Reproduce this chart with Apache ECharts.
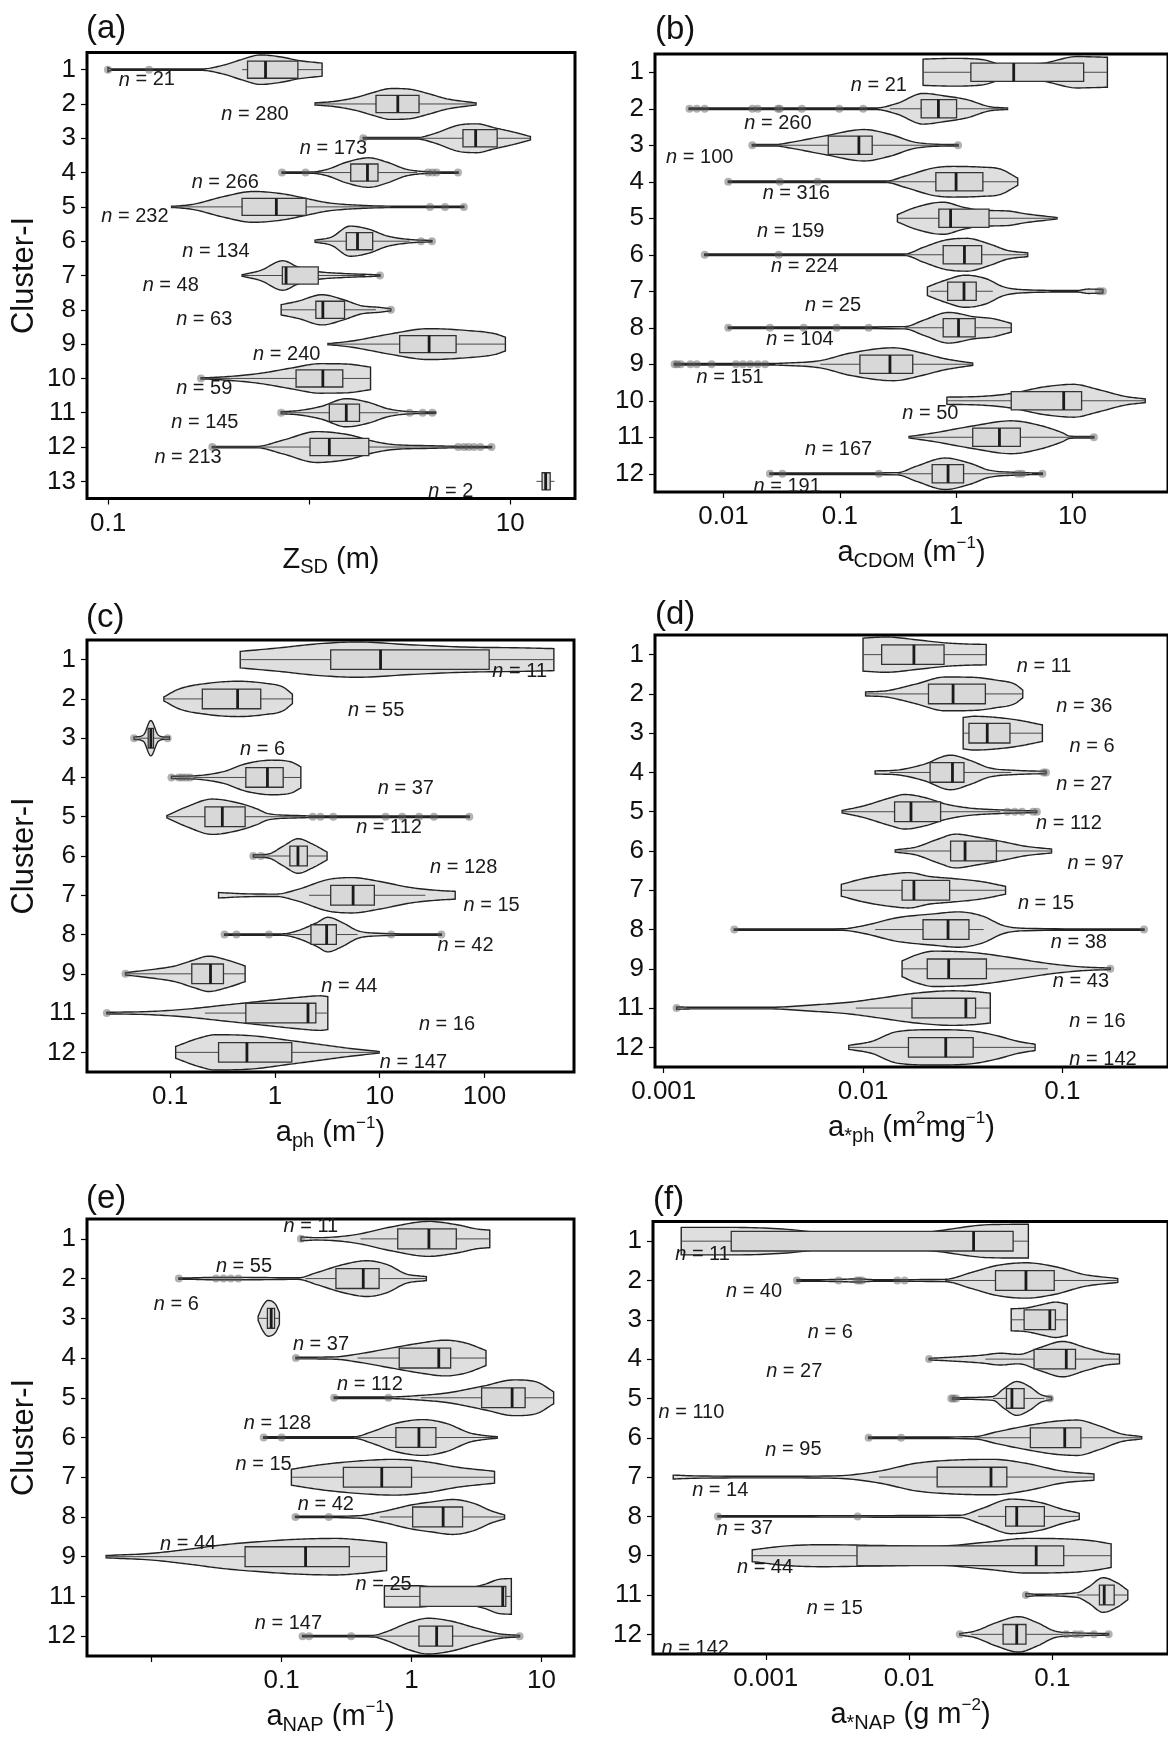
<!DOCTYPE html>
<html>
<head>
<meta charset="utf-8">
<title>Cluster-I violin plots</title>
<script src="https://cdn.jsdelivr.net/npm/echarts@6/dist/echarts.min.js"></script>
<style>
  html, body { margin: 0; padding: 0; background: #fff; }
  #chart { width: 1168px; height: 1738px; }
</style>
</head>
<body>
<div id="chart"></div>
<script>
// --- data: (a) Z_SD ---
const zsdClusters = ['1', '2', '3', '4', '5', '6', '7', '8', '9', '10', '11', '12', '13'];
// violin outline: [value, half width in category units]
const zsdViolins = [
  [[0.1, .06], [0.104, .02], [0.29, .02], [0.375, .13], [0.464, .3], [0.574, .43], [0.741, .36], [0.879, .27], [1.16, .19]],
  [[1.07, .03], [1.35, .08], [1.74, .2], [2.07, .33], [2.55, .45], [3.16, .43], [3.92, .3], [4.84, .15], [6.76, .03]],
  [[1.86, .01], [3.44, .02], [4.26, .15], [5.51, .38], [6.81, .42], [8.43, .3], [10.4, .18], [12.6, .05]],
  [[0.733, .01], [1.04, .02], [1.24, .1], [1.53, .3], [1.98, .43], [2.45, .3], [3.03, .1], [3.75, .03], [5.51, .01]],
  [[0.207, .01], [0.267, .08], [0.375, .3], [0.527, .45], [0.741, .38], [0.958, .25], [1.24, .12], [1.74, .05], [2.55, .02], [5.88, .01]],
  [[1.07, .03], [1.29, .12], [1.6, .44], [1.98, .35], [2.45, .15], [3.16, .05], [4.08, .02]],
  [[0.464, .02], [0.574, .15], [0.741, .43], [0.879, .25], [1.09, .12], [1.47, .06], [2.25, .02]],
  [[0.726, .15], [0.879, .25], [1.16, .44], [1.47, .3], [1.82, .12], [2.25, .07], [2.55, .03]],
  [[1.24, .01], [1.67, .1], [2.55, .3], [3.92, .45], [6.0, .4], [8.43, .3], [9.46, .2]],
  [[0.29, .01], [0.408, .06], [0.574, .15], [0.81, .3], [1.14, .43], [1.53, .42], [2.02, .33]],
  [[0.726, .03], [0.879, .06], [1.14, .18], [1.53, .41], [1.98, .3], [2.45, .12], [3.03, .04], [4.26, .02]],
  [[0.33, .01], [0.55, .02], [0.741, .2], [1.09, .45], [1.6, .35], [1.98, .2], [2.55, .08], [3.92, .04], [5.51, .02], [8.07, .01]],
  []
];
// [q1, median, q3]
const zsdBoxes = [[0.494, 0.607, 0.879], [2.15, 2.76, 3.52], [5.82, 6.73, 8.61], [1.61, 1.95, 2.2], [0.464, 0.687, 0.966],
  [1.53, 1.74, 2.07], [0.736, 0.768, 1.11], [1.08, 1.17, 1.5], [2.82, 3.95, 5.38], [0.861, 1.17, 1.47], [1.26, 1.53, 1.78],
  [1.01, 1.26, 1.98], [14.4, 15.0, 15.8]];
const zsdWhiskers = [[0.464, 1.16], [1.07, 6.76], [1.86, 12.6], [1.0, 3.44], [0.207, 2.55], [1.07, 3.16], [0.464, 1.9],
  [0.726, 2.15], [1.24, 9.46], [0.29, 2.02], [0.726, 2.78], [0.33, 5.38], [13.5, 16.6]];
// [value, cluster index]
const zsdOutliers = [[0.1, 0], [0.16, 0], [1.86, 2], [0.733, 3], [0.96, 3], [3.9, 3], [4.1, 3], [4.3, 3], [5.5, 3],
  [3.99, 4], [4.74, 4], [5.88, 4], [3.6, 5], [4.08, 5], [2.25, 6], [2.55, 7], [0.29, 9], [0.726, 10], [3.16, 10],
  [3.67, 10], [4.1, 10], [0.33, 11], [5.51, 11], [5.88, 11], [6.2, 11], [6.6, 11], [7.1, 11], [8.07, 11]];
// [x value, cluster index, vertical offset in category units, n]
const zsdCounts = [[0.156, 0, .30, 21], [0.538, 1, .30, 280], [1.32, 2, .29, 173], [0.383, 3, .30, 266], [0.136, 4, .29, 232],
  [0.344, 5, .30, 134], [0.205, 6, .29, 48], [0.301, 7, .29, 63], [0.774, 8, .29, 240], [0.301, 9, .28, 59],
  [0.303, 10, .29, 145], [0.25, 11, .29, 213], [5.06, 12, .30, 2]];

// --- data: (b) a_CDOM ---
const cdomClusters = ['1', '2', '3', '4', '5', '6', '7', '8', '9', '10', '11', '12'];
const cdomViolins = [
  [[0.52, .36], [0.93, .38], [1.66, .35], [2.98, .15], [5.73, .25], [11.0, .43], [20.0, .41]],
  [[0.00506, .01], [0.202, .02], [0.313, .15], [0.52, .42], [0.804, .35], [1.24, .25], [1.92, .06], [2.77, .02]],
  [[0.0177, .01], [0.0284, .02], [0.0379, .08], [0.073, .25], [0.162, .43], [0.27, .3], [0.45, .08], [1.04, .01]],
  [[0.011, .01], [0.251, .02], [0.361, .15], [0.647, .38], [0.93, .42], [1.66, .4], [2.39, .35], [3.39, .1]],
  [[0.313, .1], [0.45, .3], [0.775, .44], [1.16, .3], [1.66, .22], [2.77, .2], [3.98, .12], [7.38, .02]],
  [[0.0069, .01], [0.361, .02], [0.52, .2], [0.804, .4], [1.24, .45], [1.92, .3], [2.77, .12], [4.13, .05]],
  [[0.567, .12], [0.804, .3], [1.2, .44], [1.79, .35], [2.57, .12], [3.98, .04], [11.0, .02], [13.7, .06], [18.3, .05]],
  [[0.011, .01], [0.361, .03], [0.52, .2], [0.865, .42], [1.44, .3], [2.07, .25], [2.98, .12]],
  [[0.00379, .01], [0.0245, .02], [0.0328, .03], [0.0679, .1], [0.121, .3], [0.29, .45], [0.52, .3], [0.804, .15], [1.39, .03]],
  [[0.834, .1], [1.66, .12], [2.98, .2], [5.73, .38], [10.2, .45], [17.0, .3], [28.3, .12], [42.3, .05]],
  [[0.394, .02], [0.647, .12], [1.34, .3], [2.98, .45], [5.33, .32], [8.24, .12], [9.52, .03], [15.3, .01]],
  [[0.0251, .01], [0.313, .03], [0.45, .2], [0.804, .43], [1.34, .28], [1.92, .1], [3.98, .03], [5.52, .01]]
];
const cdomBoxes = [[1.34, 3.13, 12.5], [0.501, 0.705, 1.01], [0.0796, 0.146, 0.19], [0.67, 1.0, 1.7], [0.711, 0.897, 1.92],
  [0.775, 1.18, 1.66], [0.846, 1.17, 1.49], [0.775, 1.05, 1.46], [0.149, 0.27, 0.424], [2.98, 8.42, 12.0],
  [1.39, 2.36, 3.57], [0.623, 0.853, 1.16]];
const cdomWhiskers = [[0.52, 20.0], [0.27, 2.77], [0.0177, 1.04], [0.251, 3.39], [0.313, 7.38], [0.361, 4.13], [0.601, 2.07],
  [0.361, 2.98], [0.0679, 1.39], [0.834, 42.3], [0.394, 15.3], [0.313, 3.98]];
const cdomOutliers = [[0.0051, 1], [0.0059, 1], [0.0069, 1], [0.0177, 1], [0.0197, 1], [0.0294, 1], [0.0305, 1], [0.0472, 1],
  [0.099, 1], [0.159, 1], [0.0177, 2], [1.04, 2], [0.011, 3], [0.0305, 3], [0.0645, 3], [0.0069, 5], [0.0298, 5],
  [17, 6], [18.3, 6], [0.011, 7], [0.0251, 7], [0.049, 7], [0.0941, 7], [0.177, 7],
  [0.0038, 8], [0.0040, 8], [0.0043, 8], [0.0052, 8], [0.0059, 8], [0.0079, 8], [0.0128, 8], [0.0147, 8], [0.017, 8],
  [0.0197, 8], [0.0228, 8], [15.3, 10], [0.0251, 11], [0.0321, 11], [0.217, 11], [3.39, 11], [3.7, 11], [5.52, 11]];
const cdomCounts = [[0.217, 0, .37, 21], [0.0294, 1, .39, 260], [0.00625, 2, .33, 100], [0.0423, 3, .33, 316],
  [0.0379, 4, .36, 159], [0.05, 5, .33, 224], [0.0875, 6, .39, 25], [0.0455, 7, .33, 104], [0.0114, 8, .37, 151],
  [0.601, 9, .34, 50], [0.0977, 10, .34, 167], [0.0353, 11, .35, 191]];

// --- data: (c) a_ph ---
const aphClusters = ['1', '2', '3', '4', '5', '6', '7', '8', '9', '11', '12'];
const aphViolins = [
  [[0.467, .21], [1.1, .3], [2.5, .4], [6.15, .45], [19.4, .38], [66, .32], [225, .3], [460, .28]],
  [[0.0872, .05], [0.121, .25], [0.233, .4], [0.448, .45], [0.795, .4], [1.2, .3], [1.47, .12]],
  [[0.0453, .03], [0.0556, .08], [0.0655, .45], [0.0771, .08], [0.0908, .03], [0.0986, .03]],
  [[0.103, .03], [0.168, .04], [0.323, .15], [0.528, .35], [0.937, .44], [1.41, .4], [1.77, .27]],
  [[0.0931, .03], [0.143, .25], [0.253, .45], [0.448, .35], [0.675, .2], [0.863, .08], [1.66, .03], [3.77, .01], [71.7, .005]],
  [[0.622, .03], [0.863, .05], [1.2, .25], [1.66, .44], [2.3, .3], [3.15, .1]],
  [[0.29, .07], [0.486, .04], [1.02, .03], [1.66, .15], [3.2, .4], [5.44, .45], [10.1, .35], [19.4, .2], [37.3, .12], [52.6, .1]],
  [[0.331, .01], [1.2, .02], [1.66, .1], [2.5, .3], [3.2, .44], [4.44, .3], [6.15, .1], [8.54, .04], [38.8, .01]],
  [[0.0375, .03], [0.0629, .1], [0.111, .2], [0.168, .35], [0.233, .45], [0.351, .35], [0.52, .2]],
  [[0.0249, .02], [0.0629, .04], [0.143, .1], [0.323, .2], [0.733, .3], [1.66, .4], [2.72, .44], [3.2, .42]],
  [[0.113, .15], [0.182, .35], [0.274, .45], [0.622, .42], [1.41, .3], [2.72, .2], [5.23, .1], [9.89, .02]]
];
const aphBoxes = [[3.41, 10.2, 111], [0.203, 0.441, 0.733], [0.0618, 0.0655, 0.0694], [0.528, 0.849, 1.2], [0.215, 0.315, 0.52],
  [1.39, 1.66, 2.04], [3.41, 5.58, 8.9], [2.21, 3.12, 3.86], [0.161, 0.243, 0.323], [0.528, 2.07, 2.46], [0.29, 0.541, 1.45]];
const aphWhiskers = [[0.467, 460], [0.0872, 1.47], [0.05, 0.0872], [0.168, 1.77], [0.0931, 1.96], [0.733, 3.15], [2.12, 27.3],
  [1.3, 6.15], [0.0375, 0.52], [0.215, 3.2], [0.113, 9.89]];
const aphOutliers = [[0.0453, 2], [0.0947, 2], [0.103, 3], [0.121, 3], [0.131, 3], [0.142, 3], [0.155, 3],
  [2.3, 4], [2.72, 4], [3.61, 4], [11.4, 4], [16.4, 4], [23.8, 4], [33, 4], [71.7, 4], [0.622, 5], [0.733, 5],
  [0.331, 7], [0.43, 7], [0.877, 7], [12.9, 7], [38.8, 7], [0.0375, 8], [0.0249, 9]];
const aphCounts = [[217, 0, .30, 11], [9.27, 1, .30, 55], [0.763, 2, .28, 6], [17.8, 3, .28, 37], [12.3, 4, .28, 112],
  [63.4, 5, .30, 128], [117, 6, .27, 15], [66, 7, .28, 42], [5.14, 8, .31, 44], [43.9, 9, .28, 16], [21, 10, .26, 147]];

// --- data: (d) a*_ph ---
const aphsClusters = ['1', '2', '3', '4', '5', '6', '7', '8', '9', '11', '12'];
const aphsViolins = [
  [[0.01, .42], [0.0131, .45], [0.0184, .38], [0.0258, .3], [0.0333, .27], [0.0415, .26]],
  [[0.0103, .05], [0.0131, .08], [0.0184, .25], [0.0258, .43], [0.0362, .42], [0.0467, .35], [0.0577, .25], [0.0633, .1]],
  [[0.0318, .4], [0.0362, .43], [0.0467, .4], [0.0603, .33], [0.0794, .21]],
  [[0.0115, .04], [0.0148, .06], [0.02, .2], [0.0275, .44], [0.0347, .3], [0.0429, .12], [0.0603, .05], [0.0828, .03]],
  [[0.00785, .03], [0.0101, .15], [0.0136, .35], [0.0162, .44], [0.0208, .35], [0.0258, .2], [0.0333, .1], [0.0467, .05], [0.0745, .02]],
  [[0.0145, .03], [0.0184, .1], [0.0237, .3], [0.0292, .43], [0.0377, .35], [0.0488, .25], [0.0655, .12], [0.0883, .05]],
  [[0.00778, .15], [0.0101, .3], [0.0142, .42], [0.0169, .45], [0.0217, .35], [0.0281, .3], [0.0394, .22], [0.0519, .1]],
  [[0.00226, .01], [0.00785, .02], [0.0101, .1], [0.0148, .3], [0.0227, .4], [0.0299, .45], [0.0394, .35], [0.0508, .1], [0.0655, .03], [0.257, .01]],
  [[0.0157, .2], [0.0184, .35], [0.0227, .45], [0.0347, .42], [0.053, .3], [0.081, .15], [0.124, .05], [0.174, .02]],
  [[0.00116, .03], [0.00144, .02], [0.00336, .02], [0.00559, .08], [0.00855, .15], [0.012, .25], [0.0184, .38], [0.0281, .44], [0.0362, .42], [0.0435, .38]],
  [[0.00848, .05], [0.011, .15], [0.0148, .4], [0.0227, .45], [0.0347, .42], [0.0467, .3], [0.0603, .15], [0.073, .08]]
];
const aphsBoxes = [[0.0124, 0.018, 0.0255], [0.0213, 0.0283, 0.0411], [0.034, 0.042, 0.0546], [0.0217, 0.0281, 0.0321],
  [0.0144, 0.0174, 0.0245], [0.0275, 0.0325, 0.0467], [0.0157, 0.018, 0.0272], [0.02, 0.0267, 0.034],
  [0.021, 0.0269, 0.0416], [0.0176, 0.0328, 0.0367], [0.0169, 0.026, 0.0357]];
const aphsWhiskers = [[0.01, 0.0415], [0.0103, 0.0633], [0.0318, 0.0794], [0.0136, 0.0554], [0.00785, 0.0488],
  [0.0145, 0.0883], [0.00778, 0.0519], [0.0115, 0.0403], [0.0157, 0.0845], [0.0092, 0.0435], [0.00848, 0.073]];
const aphsOutliers = [[0.0805, 3], [0.0828, 3], [0.053, 4], [0.0577, 4], [0.0628, 4], [0.0713, 4], [0.0745, 4],
  [0.00226, 7], [0.257, 7], [0.174, 8], [0.00116, 9]];
const aphsCounts = [[0.081, 0, .31, 11], [0.129, 1, .31, 36], [0.141, 2, .33, 6], [0.129, 3, .31, 27], [0.108, 4, .31, 112],
  [0.147, 5, .31, 97], [0.0828, 6, .33, 15], [0.121, 7, .33, 38], [0.124, 8, .32, 43], [0.15, 9, .33, 16], [0.16, 10, .31, 142]];

// --- data: (e) a_NAP ---
const anapClusters = ['1', '2', '3', '4', '5', '6', '7', '8', '9', '11', '12'];
const anapViolins = [
  [[0.141, .05], [0.186, .03], [0.36, .1], [0.696, .3], [1.35, .44], [2.28, .35], [3.17, .25], [4.0, .22]],
  [[0.0162, .01], [0.0313, .03], [0.0497, .03], [0.134, .02], [0.186, .15], [0.295, .35], [0.453, .45], [0.652, .35], [0.906, .12], [1.3, .05]],
  [[0.066, .05], [0.0714, .3], [0.0789, .45], [0.09, .35], [0.0962, .15]],
  [[0.129, .02], [0.259, .03], [0.384, .1], [0.696, .25], [1.18, .38], [1.81, .45], [2.6, .38], [3.74, .19]],
  [[0.254, .01], [0.696, .02], [1.18, .06], [1.87, .12], [3.62, .3], [6.14, .45], [9.12, .4], [12.4, .15]],
  [[0.0728, .01], [0.36, .02], [0.5, .15], [0.743, .35], [1.22, .45], [1.87, .35], [2.78, .12], [3.62, .05], [4.56, .02]],
  [[0.119, .2], [0.186, .3], [0.36, .4], [0.743, .45], [1.35, .38], [2.28, .25], [4.35, .15]],
  [[0.128, .01], [0.384, .03], [0.571, .12], [0.989, .3], [1.44, .38], [2.07, .44], [2.97, .35], [4.13, .15], [5.2, .05]],
  [[0.00447, .03], [0.00955, .08], [0.0185, .18], [0.0357, .3], [0.0691, .38], [0.134, .44], [0.259, .46], [0.41, .42], [0.643, .35]],
  [[0.618, .27], [1.1, .27], [2.14, .16], [3.62, .3], [4.71, .43], [5.86, .45]],
  [[0.145, .01], [0.5, .02], [0.652, .12], [0.968, .35], [1.35, .45], [2.0, .38], [3.17, .2], [4.71, .06], [6.78, .02]]
];
const anapBoxes = [[0.783, 1.36, 2.21], [0.262, 0.425, 0.563], [0.0778, 0.0832, 0.0883], [0.804, 1.62, 2.0], [3.46, 5.94, 7.48],
  [0.758, 1.14, 1.54], [0.299, 0.59, 1.0], [1.02, 1.75, 2.47], [0.0524, 0.153, 0.332], [1.16, 5.03, 5.31], [1.14, 1.56, 2.07]];
const anapWhiskers = [[0.405, 4.0], [0.153, 1.3], [0.066, 0.0962], [0.384, 3.74], [1.18, 12.4], [0.36, 4.56], [0.119, 4.35],
  [0.571, 5.2], [0.00447, 0.643], [0.618, 5.86], [0.5, 6.78]];
const anapOutliers = [[0.141, 0], [0.0162, 1], [0.0313, 1], [0.0357, 1], [0.0407, 1], [0.0465, 1], [0.129, 3],
  [0.254, 4], [0.664, 4], [0.0728, 5], [0.1, 5], [0.128, 7], [0.231, 7], [0.145, 10], [0.163, 10], [0.343, 10], [6.78, 10]];
const anapCounts = [[0.168, 0, -.32, 11], [0.0514, 1, -.30, 55], [0.0155, 2, -.35, 6], [0.201, 3, -.33, 37],
  [0.478, 4, -.33, 112], [0.093, 5, -.35, 128], [0.0728, 6, -.33, 15], [0.219, 7, -.31, 42], [0.0191, 8, -.32, 44],
  [0.61, 9, -.31, 25], [0.113, 10, -.33, 147]];

// --- data: (f) a*_NAP ---
const anapsClusters = ['1', '2', '3', '4', '5', '6', '7', '8', '9', '11', '12'];
const anapsViolins = [
  [[0.000257, .35], [0.000581, .35], [0.00141, .3], [0.00341, .15], [0.00616, .12], [0.0149, .25], [0.0362, .42], [0.068, .43]],
  [[0.00165, .01], [0.00341, .03], [0.00432, .04], [0.00581, .02], [0.0178, .03], [0.027, .2], [0.0408, .38], [0.0654, .45], [0.105, .35], [0.168, .15], [0.286, .05]],
  [[0.0516, .28], [0.0654, .3], [0.0879, .4], [0.105, .45], [0.127, .4]],
  [[0.0138, .02], [0.0201, .05], [0.0322, .1], [0.0432, .15], [0.0581, .12], [0.0828, .3], [0.118, .45], [0.168, .3], [0.239, .15], [0.294, .12]],
  [[0.0201, .02], [0.0385, .05], [0.0459, .25], [0.0564, .43], [0.0694, .3], [0.0828, .1], [0.0989, .03]],
  [[0.00522, .01], [0.0286, .03], [0.0408, .15], [0.0654, .3], [0.105, .42], [0.149, .45], [0.213, .3], [0.303, .1], [0.42, .03]],
  [[0.000226, .05], [0.000322, .03], [0.00105, .02], [0.00303, .03], [0.00616, .15], [0.0111, .35], [0.0201, .43], [0.0385, .45], [0.0654, .35], [0.118, .15], [0.195, .08]],
  [[0.000464, .01], [0.00438, .02], [0.0226, .03], [0.0322, .2], [0.0516, .44], [0.0828, .35], [0.118, .18], [0.154, .08]],
  [[0.000804, .15], [0.00141, .25], [0.00254, .28], [0.00616, .26], [0.0149, .24], [0.0362, .35], [0.0654, .44], [0.118, .43], [0.189, .38], [0.257, .3]],
  [[0.0654, .04], [0.078, .02], [0.149, .06], [0.178, .2], [0.226, .44], [0.286, .3], [0.336, .12]],
  [[0.0226, .02], [0.0286, .08], [0.0408, .3], [0.0581, .45], [0.078, .3], [0.105, .08], [0.141, .04], [0.247, .02]]
];
const anapsBoxes = [[0.000574, 0.0282, 0.0532], [0.0401, 0.0654, 0.103], [0.0635, 0.096, 0.105], [0.0745, 0.125, 0.145],
  [0.0478, 0.0522, 0.0635], [0.0702, 0.122, 0.158], [0.0157, 0.0373, 0.0481], [0.0472, 0.0564, 0.0879],
  [0.00433, 0.0771, 0.12], [0.213, 0.23, 0.27], [0.0453, 0.0564, 0.0654]];
const anapsWhiskers = [[0.000257, 0.068], [0.0178, 0.286], [0.0516, 0.127], [0.0341, 0.294], [0.0385, 0.0879],
  [0.0286, 0.42], [0.00616, 0.195], [0.0303, 0.154], [0.000804, 0.257], [0.149, 0.336], [0.027, 0.118]];
const anapsOutliers = [[0.00165, 1], [0.00322, 1], [0.00432, 1], [0.0045, 1], [0.0047, 1], [0.00828, 1], [0.00931, 1],
  [0.0138, 3], [0.0197, 4], [0.0204, 4], [0.0213, 4], [0.096, 4], [0.00522, 5], [0.00879, 5], [0.000464, 7],
  [0.00438, 7], [0.0654, 9], [0.0226, 10], [0.125, 10], [0.145, 10], [0.158, 10], [0.195, 10], [0.247, 10]];
const anapsCounts = [[0.000362, 0, .35, 11], [0.000828, 1, .28, 40], [0.00282, 2, .33, 6], [0.00158, 3, .31, 27],
  [0.000303, 4, .35, 110], [0.00156, 5, .31, 95], [0.000481, 6, .34, 14], [0.000714, 7, .32, 37],
  [0.000988, 8, .31, 44], [0.00303, 9, .33, 15], [0.000322, 10, .35, 142]];

// --- layout per panel ---
const FONT = '"Liberation Sans", Arial, Helvetica, sans-serif';
const panels = [
  { tag: '(a)', tagPos: [86, 12], grid: { left: 87, top: 52.5, width: 488, height: 446 }, min: 0.0786, max: 20.99, hide: [0],
    name: '{a|Z}{s|SD}{a| (m)}', left: true,
    cats: zsdClusters, violins: zsdViolins, boxes: zsdBoxes, whiskers: zsdWhiskers, outliers: zsdOutliers, counts: zsdCounts },
  { tag: '(b)', tagPos: [655, 13], grid: { left: 655, top: 54, width: 520, height: 438 }, min: 0.002578, max: 66.4, hide: [],
    name: '{a|a}{s|CDOM}{a| (m}{p|−1}{a|)}', left: false,
    cats: cdomClusters, violins: cdomViolins, boxes: cdomBoxes, whiskers: cdomWhiskers, outliers: cdomOutliers, counts: cdomCounts },
  { tag: '(c)', tagPos: [86, 601], grid: { left: 87, top: 640, width: 487, height: 432 }, min: 0.0161, max: 716, hide: [],
    name: '{a|a}{s|ph}{a| (m}{p|−1}{a|)}', left: true,
    cats: aphClusters, violins: aphViolins, boxes: aphBoxes, whiskers: aphWhiskers, outliers: aphOutliers, counts: aphCounts },
  { tag: '(d)', tagPos: [655, 598], grid: { left: 655, top: 635, width: 520, height: 432 }, min: 0.000904, max: 0.339, hide: [],
    name: '{a|a}{s|*ph}{a| (m}{p|2}{a|mg}{p|−1}{a|)}', left: false,
    cats: aphsClusters, violins: aphsViolins, boxes: aphsBoxes, whiskers: aphsWhiskers, outliers: aphsOutliers, counts: aphsCounts },
  { tag: '(e)', tagPos: [86, 1182], grid: { left: 87, top: 1219, width: 487, height: 437 }, min: 0.003184, max: 17.78, hide: [-2],
    name: '{a|a}{s|NAP}{a| (m}{p|−1}{a|)}', left: true,
    cats: anapClusters, violins: anapViolins, boxes: anapBoxes, whiskers: anapWhiskers, outliers: anapOutliers, counts: anapCounts },
  { tag: '(f)', tagPos: [653, 1183], grid: { left: 653, top: 1221.5, width: 522, height: 432.5 }, min: 0.0001633, max: 0.641, hide: [],
    name: '{a|a}{s|*NAP}{a| (g m}{p|−2}{a|)}', left: false,
    cats: anapsClusters, violins: anapsViolins, boxes: anapsBoxes, whiskers: anapsWhiskers, outliers: anapsOutliers, counts: anapsCounts }
];

// monotone cubic through the outline points (pixel space), keeps the violin smooth without overshoot
function smoothProfile(p) {
  const n = p.length;
  if (n < 2) return p;
  const dx = [], m = [];
  for (let i = 0; i < n - 1; i++) {
    dx.push(p[i + 1][0] - p[i][0]);
    m.push((p[i + 1][1] - p[i][1]) / (dx[i] || 1e-6));
  }
  const t = [m[0]];
  for (let i = 1; i < n - 1; i++) t.push(m[i - 1] * m[i] <= 0 ? 0 : (m[i - 1] + m[i]) / 2);
  t.push(m[n - 2]);
  for (let i = 0; i < n - 1; i++) {
    if (m[i] === 0) { t[i] = 0; t[i + 1] = 0; continue; }
    const a = t[i] / m[i], b = t[i + 1] / m[i], s = a * a + b * b;
    if (s > 9) { const k = 3 / Math.sqrt(s); t[i] = k * a * m[i]; t[i + 1] = k * b * m[i]; }
  }
  const out = [];
  for (let i = 0; i < n - 1; i++) {
    const h = dx[i];
    for (let k = 0; k < 12; k++) {
      const u = k / 12, u2 = u * u, u3 = u2 * u;
      const y = (2 * u3 - 3 * u2 + 1) * p[i][1] + (u3 - 2 * u2 + u) * h * t[i] +
        (-2 * u3 + 3 * u2) * p[i + 1][1] + (u3 - u2) * h * t[i + 1];
      out.push([p[i][0] + u * h, y]);
    }
  }
  out.push(p[n - 1]);
  return out.map(q => [q[0], Math.max(0.7, q[1])]);
}

function violinRenderer(profiles) {
  return function (params, api) {
    const prof = profiles[params.dataIndex];
    if (!prof || !prof.length) return null;
    const cat = api.value(1);
    const band = api.size([1, 1])[1];
    const cy = api.coord([prof[0][0], cat])[1];
    const pts = prof.map(d => [api.coord([d[0], cat])[0], d[1] * band]);
    const curve = smoothProfile(pts);
    const top = curve.map(q => [q[0], cy - q[1]]);
    const bottom = curve.slice().reverse().map(q => [q[0], cy + q[1]]);
    return {
      type: 'polygon',
      shape: { points: top.concat(bottom) },
      style: { fill: '#dfdfdf', stroke: '#222', lineWidth: 1.4 }
    };
  };
}

function boxRenderer(params, api) {
  const cat = api.value(5);
  const band = api.size([1, 1])[1];
  const hb = band * 0.25;
  const q1 = api.coord([api.value(0), cat]);
  const md = api.coord([api.value(1), cat]);
  const q3 = api.coord([api.value(2), cat]);
  const lo = api.coord([api.value(3), cat]);
  const hi = api.coord([api.value(4), cat]);
  const y = q1[1];
  return {
    type: 'group',
    children: [
      { type: 'line', shape: { x1: lo[0], y1: y, x2: hi[0], y2: y }, style: { stroke: '#4a4a4a', lineWidth: 1 } },
      { type: 'rect', shape: { x: q1[0], y: y - hb, width: q3[0] - q1[0], height: 2 * hb },
        style: { fill: '#d8d8d8', stroke: '#333', lineWidth: 1.3 } },
      { type: 'line', shape: { x1: md[0], y1: y - hb, x2: md[0], y2: y + hb }, style: { stroke: '#1a1a1a', lineWidth: 2.8 } }
    ]
  };
}

function countRenderer(params, api) {
  const pos = api.coord([api.value(0), api.value(1)]);
  const band = api.size([1, 1])[1];
  return {
    type: 'text',
    x: pos[0],
    y: pos[1] + api.value(2) * band,
    style: {
      text: '{i|n}{r| = ' + api.value(3) + '}',
      align: 'center',
      verticalAlign: 'middle',
      rich: {
        i: { fontStyle: 'italic', fontSize: 20, fontFamily: FONT, fill: '#1a1a1a' },
        r: { fontSize: 20, fontFamily: FONT, fill: '#1a1a1a' }
      }
    }
  };
}

function powLabel(e) {
  return e < 0 ? '0.' + '0'.repeat(-e - 1) + '1' : '1' + '0'.repeat(e);
}

const nameRich = {
  a: { fontSize: 29, fontFamily: FONT, color: '#111', lineHeight: 36 },
  s: { fontSize: 20, fontFamily: FONT, color: '#111', lineHeight: 20, verticalAlign: 'bottom' },
  p: { fontSize: 17, fontFamily: FONT, color: '#111', lineHeight: 17, verticalAlign: 'top' }
};

const option = {
  animation: false,
  backgroundColor: '#fff',
  title: panels.map(p => ({
    text: p.tag, left: p.tagPos[0], top: p.tagPos[1], padding: 0,
    textStyle: { fontSize: 33, fontWeight: 'normal', color: '#111', fontFamily: FONT }
  })),
  grid: panels.map(p => Object.assign({ show: true, borderColor: '#000', borderWidth: 3, backgroundColor: 'transparent' }, p.grid)),
  xAxis: panels.map((p, i) => ({
    type: 'log', logBase: 10, gridIndex: i, min: p.min, max: p.max,
    axisLine: { show: false },
    axisTick: { show: true, length: 6, lineStyle: { color: '#000', width: 1.2 } },
    splitLine: { show: false },
    axisLabel: {
      fontSize: 26, color: '#111', fontFamily: FONT, margin: 12, showMinLabel: false, showMaxLabel: false,
      formatter: v => {
        const l = Math.log10(v), e = Math.round(l);
        if (Math.abs(l - e) > 1e-6 || p.hide.indexOf(e) >= 0) return '';
        return powLabel(e);
      }
    },
    name: p.name, nameLocation: 'middle', nameGap: 43,
    nameTextStyle: { rich: nameRich }
  })),
  yAxis: panels.map((p, i) => ({
    type: 'category', gridIndex: i, data: p.cats, inverse: true,
    axisLine: { show: false },
    axisTick: { show: true, alignWithLabel: true, length: 6, lineStyle: { color: '#000', width: 1.2 } },
    axisLabel: { fontSize: 26, color: '#111', fontFamily: FONT, margin: 11 },
    name: p.left ? 'Cluster-I' : '', nameLocation: 'middle', nameRotate: 90, nameGap: 47,
    nameTextStyle: { fontSize: 31, color: '#111', fontFamily: FONT }
  })),
  series: []
};

panels.forEach((p, i) => {
  option.series.push({
    type: 'custom', xAxisIndex: i, yAxisIndex: i,
    renderItem: violinRenderer(p.violins),
    data: p.violins.map((v, k) => [v.length ? v[0][0] : 1, k]),
    encode: { x: 0, y: 1 }
  });
  option.series.push({
    type: 'custom', xAxisIndex: i, yAxisIndex: i,
    renderItem: boxRenderer,
    data: p.boxes.map((b, k) => [b[0], b[1], b[2], p.whiskers[k][0], p.whiskers[k][1], k]),
    encode: { x: [0, 1, 2, 3, 4], y: 5 }
  });
  option.series.push({
    type: 'scatter', xAxisIndex: i, yAxisIndex: i,
    symbolSize: 8,
    itemStyle: { color: 'rgba(95,95,95,0.6)' },
    data: p.outliers.map(o => [o[0], o[1]])
  });
  option.series.push({
    type: 'custom', xAxisIndex: i, yAxisIndex: i,
    renderItem: countRenderer,
    data: p.counts.map(c => [c[0], c[1], c[2], c[3]]),
    encode: { x: 0, y: 1 }
  });
});

const chart = echarts.init(document.getElementById('chart'), null, { renderer: 'canvas' });
chart.setOption(option);
</script>
</body>
</html>
